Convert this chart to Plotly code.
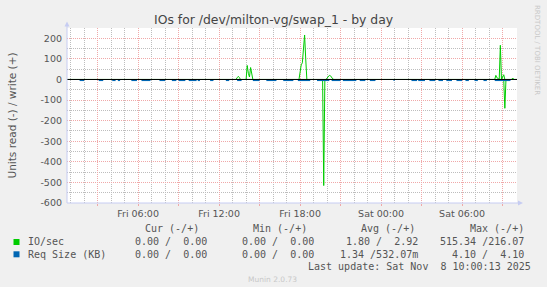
import plotly.graph_objects as go

# ---------------- data ----------------
x_start = "2025-11-07 00:44"
x_end = "2025-11-08 10:04"

# IO/sec, write (+)
io_write_times = [
    "2025-11-07 00:44",
    "2025-11-07 13:15", "2025-11-07 13:20", "2025-11-07 13:25", "2025-11-07 13:30", "2025-11-07 13:35",
    "2025-11-07 14:00", "2025-11-07 14:05", "2025-11-07 14:10", "2025-11-07 14:15", "2025-11-07 14:20",
    "2025-11-07 14:25", "2025-11-07 14:30",
    "2025-11-07 17:55", "2025-11-07 18:00", "2025-11-07 18:05", "2025-11-07 18:10", "2025-11-07 18:15",
    "2025-11-07 18:20", "2025-11-07 18:25", "2025-11-07 18:30",
    "2025-11-07 19:55", "2025-11-07 20:00", "2025-11-07 20:05", "2025-11-07 20:10", "2025-11-07 20:15",
    "2025-11-07 20:20", "2025-11-07 20:25", "2025-11-07 20:30",
    "2025-11-08 08:25", "2025-11-08 08:30", "2025-11-08 08:35", "2025-11-08 08:40", "2025-11-08 08:45",
    "2025-11-08 08:50", "2025-11-08 08:55", "2025-11-08 09:00", "2025-11-08 09:05", "2025-11-08 09:10",
    "2025-11-08 09:40", "2025-11-08 09:45", "2025-11-08 09:50",
    "2025-11-08 10:04",
]
io_write_values = [
    0,
    0, 8, 15, 10, 0,
    0, 68, 30, 12, 58,
    22, 0,
    0, 45, 71, 81, 140,
    216.07, 100, 0,
    0, 8, 15, 20, 18,
    8, 3, 0,
    0, 20, 8, 5, 0,
    166, 0, 12, 23, 0,
    0, 7, 0,
    0,
]

# IO/sec, read (-)  (magnitudes; drawn below zero)
io_read_times = [
    "2025-11-07 00:44",
    "2025-11-07 19:40", "2025-11-07 19:45", "2025-11-07 19:50",
    "2025-11-08 09:05", "2025-11-08 09:10", "2025-11-08 09:15",
    "2025-11-08 10:04",
]
io_read_values = [0, 0, 515.34, 0, 0, 140, 0, 0]

# Req Size (KB), read (-): periods with requests of 4.10 KB
req_read_start = [
    "2025-11-07 01:40", "2025-11-07 03:05", "2025-11-07 04:05", "2025-11-07 04:30", "2025-11-07 05:30",
    "2025-11-07 06:15", "2025-11-07 07:35", "2025-11-07 08:30", "2025-11-07 09:00", "2025-11-07 09:45",
    "2025-11-07 10:25", "2025-11-07 11:20", "2025-11-07 12:30", "2025-11-07 13:20", "2025-11-07 14:30",
    "2025-11-07 15:30", "2025-11-07 16:45", "2025-11-07 17:50", "2025-11-07 19:15", "2025-11-07 20:20",
    "2025-11-07 21:10", "2025-11-07 22:25", "2025-11-07 23:10", "2025-11-08 00:55", "2025-11-08 02:15",
    "2025-11-08 02:45", "2025-11-08 03:35", "2025-11-08 04:15", "2025-11-08 04:50", "2025-11-08 05:35",
    "2025-11-08 06:15", "2025-11-08 06:55", "2025-11-08 07:35", "2025-11-08 08:25",
]
req_read_end = [
    "2025-11-07 02:00", "2025-11-07 03:25", "2025-11-07 04:20", "2025-11-07 04:40", "2025-11-07 05:55",
    "2025-11-07 06:55", "2025-11-07 08:00", "2025-11-07 08:50", "2025-11-07 09:30", "2025-11-07 10:20",
    "2025-11-07 10:35", "2025-11-07 11:35", "2025-11-07 12:45", "2025-11-07 13:40", "2025-11-07 15:00",
    "2025-11-07 16:15", "2025-11-07 17:30", "2025-11-07 18:45", "2025-11-07 20:10", "2025-11-07 21:00",
    "2025-11-07 22:10", "2025-11-07 22:50", "2025-11-07 23:35", "2025-11-08 01:00", "2025-11-08 02:40",
    "2025-11-08 03:15", "2025-11-08 04:00", "2025-11-08 04:35", "2025-11-08 05:15", "2025-11-08 06:00",
    "2025-11-08 06:30", "2025-11-08 07:10", "2025-11-08 07:50", "2025-11-08 09:35",
]
req_read_kb = 4.10

y_tick_values = [-600, -500, -400, -300, -200, -100, 0, 100, 200]
x_major_times = [
    "2025-11-07 03:00", "2025-11-07 06:00", "2025-11-07 09:00", "2025-11-07 12:00",
    "2025-11-07 15:00", "2025-11-07 18:00", "2025-11-07 21:00", "2025-11-08 00:00",
    "2025-11-08 03:00", "2025-11-08 06:00", "2025-11-08 09:00",
]
x_major_labels = ["", "Fri 06:00", "", "Fri 12:00", "", "Fri 18:00", "", "Sat 00:00", "", "Sat 06:00", ""]

legend_headers = ["Cur (-/+)", "Min (-/+)", "Avg (-/+)", "Max (-/+)"]
legend_names = ["IO/sec", "Req Size (KB)"]
legend_colors = ["#00CC00", "#0066B3"]
legend_values = [
    ["0.00 /  0.00", "0.00 /  0.00", "1.80 /  2.92", "515.34 /216.07"],
    ["0.00 /  0.00", "0.00 /  0.00", "1.34 /532.07m", "4.10 /  4.10"],
]
last_update = "Last update: Sat Nov  8 10:00:13 2025"

# ---------------- layout helpers ----------------
W, H = 547, 287
PL, PR, PT, PB = 67, 517, 28, 203


def px(x):
    return (x - PL) / (PR - PL)


def py(y):
    return (PB - y) / (PB - PT)


def nb(s):
    return s.replace(" ", "\u00a0")


GREEN = "#00CC00"
BLUE = "#0066B3"
TXT = "#555555"
MGRID = "#F0A8A8"
GRID = "#BDBDBD"
AXIS = "#C6CCF2"
SANS = "DejaVu Sans"
MONO = "DejaVu Sans Mono"

fig = go.Figure()

fig.add_trace(go.Scatter(x=io_read_times, y=[-v for v in io_read_values], mode="lines",
                         line=dict(color=GREEN, width=1), showlegend=False, hoverinfo="skip"))
fig.add_trace(go.Scatter(x=io_write_times, y=io_write_values, mode="lines",
                         line=dict(color=GREEN, width=1), showlegend=False, hoverinfo="skip"))

bx, by = [], []
for s, e in zip(req_read_start, req_read_end):
    bx += [s, e, None]
    by += [-req_read_kb, -req_read_kb, None]
fig.add_trace(go.Scatter(x=bx, y=by, mode="lines", line=dict(color=BLUE, width=1.5),
                         showlegend=False, hoverinfo="skip", connectgaps=False))

shapes = []
# zero rule
shapes.append(dict(type="line", xref="paper", yref="y", x0=0, x1=1, y0=0, y1=0,
                   line=dict(color="#000000", width=1), layer="above"))
# axes with arrows
shapes.append(dict(type="line", xref="paper", yref="paper", x0=px(PL), x1=px(PL), y0=py(PB), y1=py(24),
                   line=dict(color=AXIS, width=1), layer="above"))
shapes.append(dict(type="path", xref="paper", yref="paper",
                   path=f"M {px(64.5)} {py(26.5)} L {px(69.5)} {py(26.5)} L {px(67)} {py(21.5)} Z",
                   fillcolor=AXIS, line=dict(width=0), layer="above"))
shapes.append(dict(type="line", xref="paper", yref="paper", x0=px(PL), x1=px(519), y0=py(PB), y1=py(PB),
                   line=dict(color=AXIS, width=1), layer="above"))
shapes.append(dict(type="path", xref="paper", yref="paper",
                   path=f"M {px(518)} {py(200.5)} L {px(518)} {py(205.5)} L {px(523)} {py(203)} Z",
                   fillcolor=AXIS, line=dict(width=0), layer="above"))
# legend swatches
for i, c in enumerate(legend_colors):
    yc = 242 + i * 12.3
    shapes.append(dict(type="rect", xref="paper", yref="paper", x0=px(13.5), x1=px(19.5),
                       y0=py(yc + 3), y1=py(yc - 3), fillcolor=c, line=dict(width=0)))

ann = []


def text(x, y, s, size=10, family=MONO, color=TXT, xanchor="left", angle=0):
    ann.append(dict(x=px(x), y=py(y), xref="paper", yref="paper", text=nb(s), showarrow=False,
                    xanchor=xanchor, yanchor="middle", textangle=angle,
                    font=dict(family=family, size=size, color=color)))


text(273.5, 19, "IOs for /dev/milton-vg/swap_1 - by day", size=12.4, family=SANS, color="#444444",
     xanchor="center")
text(11, 115.5, "Units read (-) / write (+)", size=10.5, family=SANS, xanchor="center", angle=-90)
text(537, 50, "RRDTOOL / TOBI OETIKER", size=7, family=SANS, color="#C8C8C8", xanchor="center", angle=90)
text(272.9, 279.6, "Munin 2.0.73", size=7.5, family=SANS, color="#C8C8C8", xanchor="center")

header_right = [200.6, 308.8, 417.0, 526.2]
value_right = [209.4, 315.8, 420.4, 526.2]
for h, xr in zip(legend_headers, header_right):
    text(xr, 228.6, h, xanchor="right")
for i, name in enumerate(legend_names):
    yc = 241.9 + i * 12.3
    text(26.2, yc, name)
    for v, xr in zip(legend_values[i], value_right):
        text(xr, yc, v, xanchor="right")
text(532.8, 266.4, last_update, xanchor="right")

fig.update_layout(
    width=W, height=H,
    margin=dict(l=PL, r=W - PR, t=PT, b=H - PB, pad=0),
    paper_bgcolor="#F0F0F0", plot_bgcolor="#FFFFFF",
    showlegend=False,
    shapes=shapes, annotations=ann,
    xaxis=dict(type="date", range=[x_start, x_end], tickmode="array",
               tickvals=x_major_times, ticktext=x_major_labels,
               showgrid=True, gridcolor=MGRID, griddash="1px,1px", gridwidth=1,
               minor=dict(dtick=3600000, tick0="2025-11-07 00:00", showgrid=True,
                          gridcolor=GRID, griddash="1px,1px", gridwidth=1),
               ticks="outside", ticklen=2, tickcolor=MGRID, tickwidth=1,
               showline=False, zeroline=False, fixedrange=True,
               tickfont=dict(family=SANS, size=9.5, color=TXT)),
    yaxis=dict(range=[-600, 250], tickmode="array", tickvals=y_tick_values,
               ticktext=[str(v) for v in y_tick_values],
               showgrid=True, gridcolor=MGRID, griddash="1px,1px", gridwidth=1,
               minor=dict(dtick=50, tick0=0, showgrid=True, gridcolor=GRID, griddash="1px,1px", gridwidth=1),
               ticks="", showline=False, zeroline=False, fixedrange=True, ticklabelstandoff=4,
               tickfont=dict(family=SANS, size=9.5, color=TXT)),
)

fig.write_html("out.html", config={"displayModeBar": False})
